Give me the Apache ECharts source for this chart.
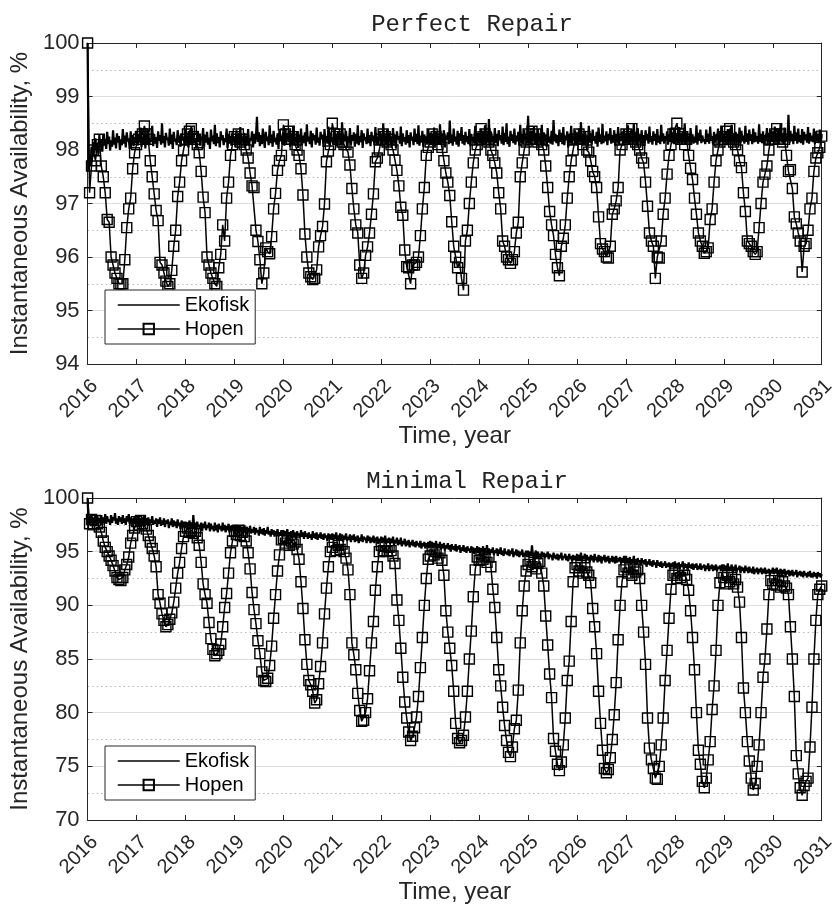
<!DOCTYPE html>
<html><head><meta charset="utf-8">
<script src="https://cdn.jsdelivr.net/npm/echarts@6/dist/echarts.min.js"></script>
<style>html,body{margin:0;padding:0;background:#fff}#c{width:838px;height:909px}</style>
</head><body><div id="c"></div>
<script>
// Time axis: each series is sampled evenly from xStart to xEnd
// (Ekofisk every 0.02 year, Hopen every 0.04 year)
const xStart = 2016, xEnd = 2031;
const titles = ['Perfect Repair', 'Minimal Repair'];
const seriesNames = ['Ekofisk', 'Hopen'];

// ---------- Perfect Repair ----------
const ekofiskPerfect = [
100,97.62,97.91,97.74,98.06,97.88,98.15,97.95,98.22,98.01,
98.12,97.93,98.28,98.04,98.19,97.97,98.3,98.08,98.21,98.02,
98.34,98.11,98.25,97.99,98.18,98.06,98.37,98.1,98.23,98.03,
98.31,98.14,98.26,98.0,98.2,98.09,98.39,98.12,98.27,98.05,
98.33,98.16,98.22,98.02,98.35,98.1,98.28,98.07,98.24,98.13,
98.36,98.08,98.29,98.14,98.42,98.06,98.25,98.18,98.33,98.03,
98.27,98.11,98.38,98.09,98.22,98.15,98.45,98.07,98.3,98.12,
98.24,98.04,98.35,98.17,98.28,98.1,98.5,98.13,98.26,98.05,
98.32,98.19,98.23,98.08,98.4,98.11,98.29,98.02,98.34,98.16,
98.21,98.09,98.37,98.14,98.27,98.06,98.31,98.18,98.25,98.1,
98.39,98.12,98.26,98.05,98.33,98.17,98.44,98.09,98.28,98.13,
98.22,98.03,98.36,98.15,98.3,98.08,98.25,98.19,98.41,98.06,
98.29,98.14,98.34,98.1,98.23,98.02,98.38,98.16,98.27,98.11,
98.47,98.07,98.31,98.13,98.24,98.05,98.35,98.18,98.28,98.09,
98.22,98.15,98.4,98.04,98.3,98.12,98.26,98.08,98.33,98.17,
98.25,98.06,98.37,98.14,98.29,98.1,98.43,98.08,98.24,98.16,
98.32,98.03,98.27,98.13,98.39,98.09,98.22,98.18,98.35,98.05,
98.3,98.12,98.26,98.62,98.15,98.33,98.07,98.28,98.11,98.4,
98.2,98.04,98.34,98.17,98.25,98.09,98.46,98.13,98.29,98.06,
98.36,98.15,98.23,98.1,98.31,98.02,98.38,98.16,98.27,98.11,
98.33,98.08,98.41,98.14,98.26,98.19,98.37,98.06,98.3,98.12,
98.45,98.1,98.24,98.17,98.35,98.04,98.29,98.15,98.4,98.09,
98.27,98.13,98.33,98.07,98.48,98.16,98.25,98.11,98.36,98.05,
98.31,98.18,98.28,98.1,98.42,98.14,98.23,98.08,98.34,98.2,
98.29,98.06,98.39,98.15,98.26,98.12,98.44,98.09,98.32,98.17,
98.24,98.1,98.38,98.13,98.3,98.07,98.35,98.19,98.27,98.11,
98.52,98.08,98.29,98.16,98.36,98.05,98.25,98.14,98.41,98.1,
98.28,98.17,98.33,98.06,98.3,98.12,98.46,98.09,98.26,98.15,
98.37,98.04,98.31,98.18,98.24,98.11,98.4,98.13,98.28,98.07,
98.34,98.16,98.27,98.09,98.43,98.14,98.25,98.1,98.36,98.18,
98.3,98.08,98.5,98.15,98.27,98.11,98.38,98.06,98.32,98.17,
98.25,98.09,98.41,98.14,98.29,98.04,98.35,98.19,98.26,98.12,
98.44,98.07,98.31,98.16,98.24,98.1,98.37,98.13,98.28,98.05,
98.33,98.18,98.25,98.09,98.4,98.15,98.3,98.11,98.46,98.08,
98.27,98.14,98.36,98.06,98.29,98.17,98.23,98.1,98.39,98.13,
98.32,98.09,98.28,98.15,98.42,98.07,98.35,98.18,98.26,98.12,
98.48,98.1,98.3,98.14,98.37,98.05,98.27,98.19,98.33,98.11,
98.55,98.13,98.29,98.08,98.4,98.16,98.25,98.1,98.36,98.06,
98.31,98.17,98.43,98.12,98.28,98.09,98.34,98.15,98.26,98.11,
98.39,98.07,98.3,98.18,98.24,98.13,98.45,98.1,98.32,98.16,
98.27,98.12,98.38,98.08,98.33,98.17,98.46,98.11,98.29,98.14,
98.58,98.09,98.35,98.16,98.26,98.1,98.41,98.13,98.3,98.07,
98.37,98.18,98.28,98.12,98.44,98.09,98.32,98.15,98.5,98.11,
98.25,98.06,98.36,98.17,98.29,98.13,98.4,98.1,98.27,98.16,
98.34,98.08,98.47,98.14,98.3,98.11,98.38,98.18,98.26,98.12,
98.64,98.13,98.35,98.1,98.28,98.17,98.44,98.12,98.31,98.08,
98.39,98.15,98.27,98.11,98.47,98.09,98.33,98.18,98.29,98.06,
98.41,98.14,98.25,98.12,98.36,98.1,98.56,98.16,98.3,98.13,
98.28,98.07,98.38,98.15,98.32,98.11,98.43,98.09,98.27,98.18,
98.35,98.05,98.3,98.14,98.45,98.12,98.26,98.17,98.37,98.1,
98.33,98.09,98.4,98.16,98.52,98.13,98.29,98.11,98.36,98.18,
98.27,98.08,98.45,98.14,98.31,98.1,98.38,98.17,98.26,98.12,
98.34,98.06,98.42,98.15,98.29,98.11,98.49,98.13,98.27,98.16,
98.35,98.09,98.3,98.18,98.41,98.12,98.28,98.14,98.37,98.08,
98.3,98.15,98.43,98.11,98.26,98.17,98.34,98.1,98.39,98.13,
98.28,98.14,98.46,98.1,98.32,98.17,98.27,98.12,98.5,98.15,
98.34,98.09,98.41,98.16,98.29,98.11,98.37,98.13,98.28,98.07,
98.37,98.18,98.3,98.12,98.44,98.15,98.26,98.1,98.35,98.17,
98.3,98.09,98.39,98.14,98.27,98.11,98.47,98.16,98.31,98.12,
98.26,98.18,98.35,98.1,98.29,98.15,98.42,98.13,98.33,98.11,
98.4,98.16,98.31,98.12,98.43,98.17,98.28,98.1,98.36,98.14,
98.5,98.11,98.33,98.18,98.27,98.09,98.41,98.15,98.29,98.12,
98.25,98.14,98.46,98.1,98.32,98.17,98.38,98.13,98.27,98.16,
98.2,98.11,98.38,98.15,98.3,98.12,98.44,98.17,98.26,98.1,
98.34,98.14,98.29,98.18,98.4,98.11,98.33,98.15,98.44,98.13,
98.3,98.16,98.27,98.09,98.39,98.14,98.33,98.12,98.47,98.17,
98.28,98.11,98.34,98.15,98.3,98.1,98.42,98.13,98.36,98.16,
98.27,98.12,98.45,98.15,98.31,98.1,98.38,98.17,98.29,98.11,
98.4,98.14,98.33,98.16,98.26,98.12,98.48,98.15,98.3,98.13,
98.35,98.1,98.28,98.17,98.41,98.14,98.32,98.11,98.37,98.15,
98.35,98.13,98.44,98.16,98.29,98.11,98.38,98.17,98.5,98.14,
98.31,98.1,98.42,98.15,98.27,98.18,98.66,98.13,98.36,98.16,
98.3,98.11,98.45,98.17,98.33,98.12,98.4,98.15,98.28,98.13,
98.39,98.1,98.34,98.18,98.29,98.14,98.43,98.12,98.32,98.16,
98.27,98.15,98.4,98.11,98.35,98.17,98.3,98.13,98.38,98.14,
98.3];

const hopenPerfect = [
100,97.2,97.7,98.0,97.8,98.1,98.2,97.7,97.5,97.2,96.7,96.65,96.0,95.85,95.7,95.6,95.5,95.5,95.5,95.95,96.55,96.9,97.1,97.65,97.95,
98.1,98.2,98.25,98.3,98.45,98.3,98.2,97.8,97.5,97.18,96.87,96.68,95.9,95.85,95.7,95.55,95.45,95.5,95.75,96.2,96.5,97.13,97.4,97.8,98.0,
98.2,98.3,98.35,98.4,98.25,98.2,98.1,97.95,97.6,97.12,96.83,96.0,95.85,95.7,95.6,95.5,95.45,95.8,96.05,96.6,96.3,97.1,97.4,97.9,98.1,
98.25,98.2,98.3,98.15,98.2,98.1,98.0,97.85,97.57,97.33,97.3,96.5,96.29,95.95,95.5,95.7,96.17,96.1,96.06,96.38,96.9,97.19,97.62,97.8,97.9,
98.47,98.3,98.2,98.35,98.2,98.25,98.1,98.0,97.9,97.65,97.16,96.43,96.0,95.7,95.63,95.58,95.6,95.76,96.19,96.4,96.57,96.99,97.78,97.98,98.1,
98.5,98.3,98.25,98.2,98.3,98.15,98.1,98.1,97.96,97.72,97.28,96.9,96.6,96.45,95.85,95.6,95.7,96.03,96.19,96.45,96.8,97.18,97.78,97.85,98.0,
98.2,98.3,98.25,98.15,98.2,98.1,98.0,97.81,97.62,97.33,96.93,96.78,96.13,95.82,95.8,95.5,95.85,95.85,95.9,96.0,96.4,96.9,97.3,97.9,98.05,
98.15,98.3,98.2,98.25,98.1,98.2,98.05,97.8,97.57,97.4,97.15,96.66,96.2,96.0,95.8,95.9,95.6,95.38,96.3,96.5,97.0,97.4,97.76,98.0,98.1,
98.2,98.4,98.25,98.3,98.2,98.15,98.0,97.9,97.76,97.57,97.2,96.9,96.3,96.2,96.0,95.95,95.88,95.95,96.1,96.45,96.65,97.5,97.76,98.0,98.15,
98.3,98.2,98.35,98.2,98.3,98.15,98.2,98.1,98.0,97.7,97.3,96.85,96.6,96.4,96.05,95.8,95.65,96.2,96.35,96.6,97.1,97.5,97.8,98.0,98.2,
98.2,98.3,98.2,98.1,98.25,98.0,97.96,97.8,97.6,97.5,97.3,96.75,96.25,96.15,96.1,96.0,95.98,96.2,96.8,96.9,97.05,97.3,98.0,98.1,98.2,
98.3,98.25,98.2,98.4,98.2,98.15,98.1,98.0,97.85,97.76,97.4,96.95,96.45,96.3,96.2,95.6,96.0,95.98,96.3,96.8,97.1,97.55,97.9,98.1,98.3,
98.3,98.5,98.3,98.2,98.25,98.1,98.2,97.9,97.66,97.45,97.1,96.8,96.45,96.3,96.2,96.07,96.1,96.17,96.7,96.9,97.4,97.8,98.0,98.15,98.2,
98.25,98.35,98.2,98.4,98.2,98.15,98.1,98.0,97.8,97.67,97.2,96.85,96.3,96.25,96.2,96.1,96.05,96.1,96.55,97.0,97.4,97.55,97.7,98.0,98.2,
98.2,98.3,98.4,98.2,98.3,98.15,98.2,97.9,97.6,97.63,97.28,96.75,96.62,96.45,96.3,95.72,96.2,96.25,96.5,96.9,97.1,97.6,97.85,97.95,98.05,
98.26];

// ---------- Minimal Repair ----------
const ekofiskMinimal = [
100,97.5,98.3,97.6,98.4,97.7,98.2,97.5,98.5,97.8,
98.3,97.6,98.1,97.9,98.4,97.5,98.2,97.7,98.5,97.6,
98.3,97.8,98.0,97.5,98.4,97.7,98.2,97.9,98.6,97.6,
98.1,97.5,98.3,97.8,98.2,97.6,98.4,97.7,98.1,97.5,
98.3,97.8,98.5,97.6,98.2,97.4,98.1,97.7,98.3,97.6,
98.2,97.5,98.3,97.7,98.0,97.4,98.2,97.8,98.4,97.5,
98.1,97.6,98.2,97.4,98.0,97.7,98.3,97.5,97.9,97.6,
98.1,97.3,98.0,97.6,98.2,97.4,97.9,97.5,98.1,97.3,
97.9,97.6,98.0,97.2,97.8,97.5,98.1,97.3,97.9,97.4,
97.8,97.2,98.0,97.4,97.7,97.1,97.9,97.3,97.8,97.2,
97.8,97.2,97.7,97.0,97.9,97.3,97.6,97.1,98.4,97.2,
97.7,97.0,97.8,97.3,97.5,97.1,97.7,96.9,97.6,97.2,
97.8,97.0,97.5,97.2,97.7,96.9,97.6,97.1,97.4,96.9,
97.7,97.0,97.5,96.8,97.6,97.1,97.4,96.9,97.7,97.0,
97.5,96.8,97.4,97.0,97.6,96.8,97.3,97.0,97.5,96.9,
97.4,96.8,97.5,96.9,97.3,96.7,97.4,97.0,97.2,96.7,
97.5,96.8,97.3,96.6,97.2,96.9,97.4,96.7,97.1,96.8,
97.3,96.6,97.2,96.8,97.0,96.5,97.3,96.7,97.1,96.6,
97.2,96.5,97.0,96.7,97.3,96.6,96.9,96.4,97.1,96.6,
97.0,96.4,96.9,96.6,97.1,96.4,96.8,96.5,97.0,96.4,
97.0,96.4,96.9,96.5,97.1,96.3,96.8,96.5,96.9,96.3,
97.0,96.4,96.8,96.2,96.9,96.5,96.7,96.3,97.0,96.4,
96.8,96.2,96.9,96.4,96.7,96.2,96.8,96.3,96.6,96.1,
96.9,96.3,96.7,96.2,96.8,96.1,96.6,96.3,96.8,96.2,
96.6,96.1,96.7,96.3,96.5,96.0,96.7,96.2,96.6,96.1,
96.7,96.1,96.6,96.2,96.8,96.0,96.5,96.2,96.7,96.1,
96.6,95.9,96.5,96.2,96.7,96.0,96.4,96.1,96.6,95.9,
96.5,96.1,96.6,95.9,96.4,96.0,96.5,95.8,96.3,96.0,
96.6,95.9,96.4,96.1,96.3,95.8,96.5,96.0,96.4,95.8,
96.3,95.9,96.5,95.8,96.3,96.0,96.4,95.7,96.2,95.9,
96.4,95.8,96.3,95.9,96.5,95.7,96.2,95.9,96.3,95.7,
96.2,95.8,96.4,95.6,96.1,95.8,96.3,95.6,96.1,95.7,
96.3,95.5,96.0,95.7,96.2,95.5,96.0,95.6,96.1,95.4,
95.9,95.6,96.1,95.5,95.9,95.4,96.0,95.6,95.8,95.4,
96.0,95.3,95.8,95.5,95.9,95.3,95.8,95.4,95.9,95.3,
96.0,95.4,95.9,95.3,95.8,95.5,96.0,95.3,95.7,95.4,
95.9,95.2,95.7,95.4,95.8,95.1,95.6,95.3,95.8,95.2,
95.6,95.0,95.7,95.2,95.5,95.1,95.7,95.0,95.5,95.2,
95.6,94.9,95.4,95.1,95.6,95.0,95.4,94.9,95.5,95.1,
95.3,94.9,95.5,95.0,95.4,94.8,95.3,95.0,95.5,94.9,
95.4,94.8,95.3,95.0,95.5,94.8,95.2,94.9,95.6,94.8,
95.3,94.7,95.2,94.9,95.4,94.7,95.1,94.9,95.3,94.6,
95.2,94.8,95.4,94.7,95.1,94.6,95.3,94.8,95.0,94.7,
95.2,94.6,95.1,94.8,95.3,94.5,95.0,94.7,95.2,94.6,
95.1,94.5,95.0,94.7,95.2,94.5,94.9,94.6,95.1,94.5,
95.1,94.5,95.0,94.6,95.6,94.5,94.9,94.7,95.1,94.4,
95.0,94.6,94.8,94.3,95.0,94.5,94.9,94.4,94.8,94.5,
95.0,94.3,94.8,94.5,94.7,94.2,94.9,94.4,94.7,94.3,
94.8,94.2,94.7,94.4,94.9,94.2,94.6,94.4,94.8,94.2,
94.6,94.1,94.8,94.3,94.6,94.1,94.7,94.3,94.6,94.2,
94.8,94.2,94.7,94.3,94.9,94.1,94.6,94.3,94.8,94.1,
94.7,94.2,94.5,94.0,94.7,94.2,94.6,94.0,94.8,94.2,
94.5,94.0,94.7,94.1,94.6,93.9,94.5,94.2,94.7,94.0,
94.5,94.1,94.6,93.9,94.4,94.1,94.6,94.0,94.5,93.9,
94.6,94.0,94.4,94.1,94.5,93.9,94.4,94.0,94.6,93.9,
94.6,93.9,94.4,94.0,94.5,93.8,94.3,94.0,94.6,93.9,
94.3,93.8,94.4,94.0,94.2,93.7,94.4,93.9,94.2,93.8,
94.3,93.6,94.1,93.8,94.3,93.7,94.1,93.6,94.2,93.8,
94.0,93.5,94.2,93.7,94.0,93.6,94.1,93.5,93.9,93.7,
94.1,93.5,93.9,93.6,94.0,93.4,93.9,93.6,94.0,93.5,
94.1,93.5,93.9,93.6,94.0,93.4,93.8,93.6,94.1,93.4,
93.9,93.5,93.8,93.3,94.0,93.5,93.8,93.4,93.9,93.3,
93.8,93.5,93.9,93.3,93.7,93.4,93.9,93.3,93.7,93.5,
93.8,93.2,93.7,93.4,93.9,93.2,93.7,93.4,93.8,93.2,
93.7,93.3,93.8,93.2,93.6,93.4,93.7,93.2,93.8,93.3,
93.8,93.2,93.7,93.3,93.9,93.2,93.6,93.3,93.8,93.1,
93.6,93.2,93.8,93.1,93.5,93.3,93.7,93.0,93.6,93.2,
93.5,93.0,93.7,93.2,93.5,93.0,93.6,93.1,93.4,93.0,
93.6,92.9,93.4,93.1,93.5,92.9,93.4,93.1,93.5,92.9,
93.4,93.0,93.5,92.9,93.3,93.0,93.4,92.8,93.3,93.0,
93.5,92.9,93.4,93.0,93.5,92.8,93.3,93.0,93.4,92.8,
93.3,92.9,93.4,92.7,93.2,92.9,93.3,92.7,93.2,92.8,
93.3,92.7,93.1,92.9,93.3,92.6,93.1,92.8,93.2,92.7,
93.1,92.6,93.2,92.8,93.0,92.6,93.1,92.7,93.2,92.6,
93.0,92.6,93.1,92.7,93.0,92.5,93.1,92.7,93.0,92.6,
92.9];

const hopenMinimal = [
100,97.6,98.0,97.5,97.9,97.6,97.3,96.8,96.0,95.4,95.0,94.6,94.2,93.7,93.2,92.6,92.4,92.3,92.6,93.3,93.8,94.5,95.8,96.5,97.2,
97.8,97.5,97.9,97.6,97.4,97.1,96.5,95.9,95.3,94.6,93.6,91.0,90.2,89.2,88.6,88.0,88.2,88.7,89.3,90.3,91.6,93.0,94.0,95.3,96.4,
96.9,97.2,96.8,97.0,96.7,96.9,96.3,95.6,94.0,92.0,91.0,90.2,88.4,86.9,85.9,85.3,85.5,85.8,86.4,88.0,89.8,91.1,93.0,94.9,96.0,
96.9,96.6,97.0,96.5,96.8,96.4,96.0,94.9,93.4,91.2,89.6,88.3,86.7,85.5,83.8,83.0,82.9,83.2,84.4,86.2,88.8,91.0,93.2,94.7,96.1,
96.2,95.8,96.3,95.6,96.0,95.7,95.9,95.2,94.3,92.2,89.7,86.8,84.5,83.0,82.6,82.0,80.9,81.2,82.7,84.3,86.5,89.2,91.6,93.6,95.0,
95.4,95.9,95.1,95.6,95.2,95.7,95.0,94.4,93.3,91.0,86.5,85.4,84.0,81.8,80.2,79.2,79.3,80.0,81.3,83.9,86.5,88.5,91.4,93.6,95.0,
95.6,95.1,95.5,95.0,95.4,95.1,94.6,93.9,90.5,88.6,86.0,83.3,81.0,79.5,78.2,77.4,77.8,78.6,79.6,81.5,84.2,87.0,90.0,92.5,94.3,
94.6,95.2,94.7,95.0,94.4,94.9,94.2,92.8,89.5,87.5,86.0,84.4,82.0,79.0,77.6,77.2,77.4,77.9,79.6,82.0,85.0,87.6,90.8,93.3,94.5,
94.2,94.8,94.3,94.6,94.0,94.5,93.6,91.5,89.8,87.0,84.0,82.5,80.5,78.8,77.4,76.3,75.9,76.8,78.5,79.3,82.1,86.5,89.5,91.8,93.2,
93.8,94.2,93.6,94.0,93.4,93.9,94.1,93.0,91.8,89.0,86.3,83.6,81.4,77.6,76.4,75.2,74.6,75.4,77.0,79.5,83.0,84.8,88.5,92.2,93.5,
93.8,93.2,93.7,93.0,93.5,93.1,92.8,92.1,89.7,88.0,85.5,82.0,79.0,76.5,74.8,74.4,74.7,75.8,77.5,79.8,82.8,86.8,90.0,92.2,93.3,
93.6,93.0,93.5,92.8,93.4,93.1,93.3,92.5,90.0,87.5,84.5,79.5,76.7,75.6,74.8,73.9,73.8,75.0,77.0,79.5,83.0,85.8,88.8,91.5,92.8,
93.0,92.5,93.2,92.6,93.3,92.8,92.4,91.4,89.5,87.0,84.0,80.0,76.5,75.2,73.6,73.0,73.9,75.6,77.3,80.3,82.5,85.8,90.0,92.1,93.0,
92.6,92.0,92.8,92.2,92.6,92.0,92.4,91.7,90.3,87.0,82.3,80.0,77.3,75.5,73.9,72.8,73.4,75.0,77.0,80.0,83.3,85.0,87.8,91.0,92.3,
92.0,92.6,91.9,92.3,91.7,92.2,91.8,91.6,91.0,88.0,85.0,81.5,76.0,74.3,73.0,72.3,73.2,73.6,73.9,76.8,80.5,85.0,88.6,91.0,91.5,
91.8];

const yRanges = [[94, 100, 1], [70, 100, 5]];

function toPairs(arr) {
  const n = arr.length;
  return arr.map((v, i) => [xStart + i * (xEnd - xStart) / (n - 1), v]);
}

const AX = '#262626';
const FONT = '"Liberation Sans", Arial, sans-serif';
const grids = [
  { left: 85, top: 43, width: 739, height: 321 },
  { left: 85, top: 498, width: 739, height: 322 }
];

const xAxes = [], yAxes = [], series = [], legends = [], graphics = [];
const dataSets = [[ekofiskPerfect, hopenPerfect], [ekofiskMinimal, hopenMinimal]];
const titlePos = [[472, 25], [467, 482]];
const legendTop = [290, 746];

grids.forEach((g, gi) => {
  const [ymin, ymax, yint] = yRanges[gi];
  xAxes.push({
    type: 'value', gridIndex: gi, position: 'bottom', min: xStart, max: xEnd, interval: 1,
    axisLine: { show: true, onZero: false, lineStyle: { color: AX, width: 1 } },
    axisTick: { show: true, inside: true, length: 5, lineStyle: { color: AX } },
    axisLabel: { rotate: 45, fontSize: 20, color: AX, fontFamily: FONT, margin: 12, verticalAlign: 'top',
      formatter: v => String(v) },
    splitLine: { show: false },
    name: 'Time, year', nameLocation: 'middle', nameGap: 60,
    nameTextStyle: { fontSize: 24, color: AX, fontFamily: FONT }
  });
  xAxes.push({
    type: 'value', gridIndex: gi, position: 'top', min: xStart, max: xEnd, interval: 1,
    axisLine: { show: true, onZero: false, lineStyle: { color: AX, width: 1 } },
    axisTick: { show: true, inside: true, length: 5, lineStyle: { color: AX } },
    axisLabel: { show: false }, splitLine: { show: false }
  });
  yAxes.push({
    type: 'value', gridIndex: gi, position: 'left', min: ymin, max: ymax, interval: yint,
    axisLine: { show: true, onZero: false, lineStyle: { color: AX, width: 1 } },
    axisTick: { show: true, inside: true, length: 5, lineStyle: { color: AX } },
    axisLabel: { fontSize: 22, color: AX, fontFamily: FONT, margin: 8 },
    splitLine: { show: true, lineStyle: { color: '#dedede', width: 1 } },
    minorTick: { show: false, splitNumber: 2 },
    minorSplitLine: { show: true, lineStyle: { color: '#b8b8b8', width: 1, type: [1.5, 3] } },
    name: 'Instantaneous Availability, %', nameLocation: 'middle', nameGap: 52,
    nameTextStyle: { fontSize: 24, color: AX, fontFamily: FONT }
  });
  yAxes.push({
    type: 'value', gridIndex: gi, position: 'right', min: ymin, max: ymax, interval: yint,
    axisLine: { show: true, onZero: false, lineStyle: { color: AX, width: 1 } },
    axisTick: { show: true, inside: true, length: 5, lineStyle: { color: AX } },
    axisLabel: { show: false }, splitLine: { show: false }
  });
  const [eko, hop] = dataSets[gi];
  series.push({
    name: seriesNames[0], type: 'line', xAxisIndex: gi * 2, yAxisIndex: gi * 2,
    data: toPairs(eko), symbol: 'none', showSymbol: false,
    lineStyle: { color: '#000', width: 2.2 }, itemStyle: { color: '#000' },
    z: 2, silent: true
  });
  series.push({
    name: seriesNames[1], type: 'line', xAxisIndex: gi * 2, yAxisIndex: gi * 2,
    data: toPairs(hop), symbol: 'rect', symbolSize: 10, clip: false,
    lineStyle: { color: '#000', width: 1.5 },
    itemStyle: { color: 'rgba(255,255,255,0)', borderColor: '#000', borderWidth: 1.4 },
    z: 3, silent: true
  });
  legends.push({
    data: [
      { name: seriesNames[0], itemStyle: { opacity: 0 }, lineStyle: { width: 1.5, color: '#000' } },
      { name: seriesNames[1], lineStyle: { width: 1.5, color: '#000' } }
    ],
    orient: 'vertical', left: 105, top: legendTop[gi],
    itemWidth: 62, itemHeight: 13, itemGap: 4, padding: [5, 6, 5, 12],
    borderColor: AX, borderWidth: 1, backgroundColor: '#fff', selectedMode: false,
    textStyle: { fontSize: 20, color: '#000', fontFamily: FONT }, z: 10
  });
  graphics.push({
    type: 'text', x: titlePos[gi][0], y: titlePos[gi][1],
    style: { text: titles[gi], font: '24px "Liberation Mono", "Courier New", monospace', fill: '#222',
      textAlign: 'center', textVerticalAlign: 'middle', align: 'center', verticalAlign: 'middle' }
  });
});

const chart = echarts.init(document.getElementById('c'));
chart.setOption({
  animation: false,
  backgroundColor: '#fff',
  grid: grids,
  xAxis: xAxes,
  yAxis: yAxes,
  legend: legends,
  graphic: graphics,
  series: series
});
</script></body></html>
